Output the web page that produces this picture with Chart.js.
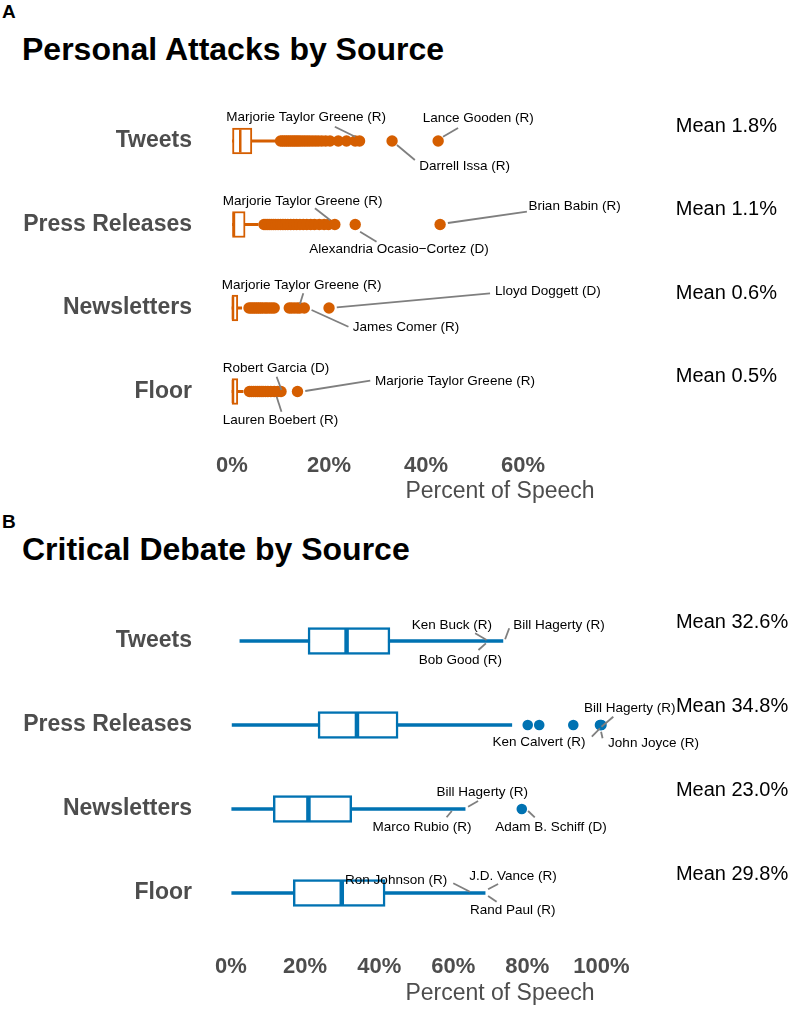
<!DOCTYPE html>
<html>
<head>
<meta charset="utf-8">
<script src="https://cdn.jsdelivr.net/npm/chart.js@4.4.1/dist/chart.umd.min.js"></script>
<style>
  body { margin: 0; background: #fff; width: 800px; height: 1009px; position: relative; overflow: hidden;
         font-family: "Liberation Sans", Arial, Helvetica, sans-serif; }
  .tag { position: absolute; left: 2px; font-weight: bold; font-size: 19px; line-height: 1; color: #000; }
  .ttl { position: absolute; left: 22px; font-weight: bold; font-size: 32px; line-height: 1; color: #000; }
  canvas { position: absolute; left: 0; }
</style>
</head>
<body>
<div class="tag" style="top:2px">A</div>
<div class="ttl" style="top:33px">Personal Attacks by Source</div>
<canvas id="chartA" width="800" height="440" style="top:70px"></canvas>
<div class="tag" style="top:512px">B</div>
<div class="ttl" style="top:533px">Critical Debate by Source</div>
<canvas id="chartB" width="800" height="439" style="top:570px"></canvas>
<script>
const ROWS = ['Tweets', 'Press Releases', 'Newsletters', 'Floor'];

// ─── A: personal attacks, percent of speech ───────────────────────────────
const A_TICKS  = [0, 20, 40, 60];
const A_LOW    = [0.1, 0.1, 0.0, 0.0];
const A_Q1     = [0.1, 0.1, 0.0, 0.0];
const A_MEDIAN = [1.7, 0.4, 0.2, 0.2];
const A_Q3     = [4.1, 2.7, 1.2, 1.2];
const A_HIGH   = [8.9, 5.4, 2.0, 2.3];
const A_MEANS  = [1.8, 1.1, 0.6, 0.5];
const A_OUT_TWEETS = [10.0, 10.4, 10.8, 11.2, 11.6, 12.0, 12.4, 12.8, 13.2, 13.6, 14.0, 14.5, 15.0, 15.5,
                      16.0, 16.6, 17.2, 17.8, 18.5, 19.3, 20.2, 21.9, 23.6, 25.4, 26.3, 33.0, 42.5];
const A_OUT_PRESS  = [6.6, 7.0, 7.4, 7.8, 8.2, 8.6, 9.0, 9.5, 10.0, 10.5, 11.0, 11.5, 12.1, 12.7, 13.3,
                      14.0, 14.7, 15.4, 16.2, 17.0, 18.0, 19.0, 19.9, 21.2, 25.4, 42.9];
const A_OUT_NEWS   = [3.5, 3.9, 4.3, 4.7, 5.1, 5.5, 5.9, 6.3, 6.8, 7.2, 7.7, 8.2, 8.7,
                      11.8, 12.3, 12.9, 13.5, 14.0, 14.9, 20.0];
const A_OUT_FLOOR  = [3.6, 4.0, 4.4, 4.8, 5.2, 5.6, 6.0, 6.4, 6.9, 7.4, 8.0, 8.7, 9.4, 10.1, 13.5];

// ─── B: critical debate, percent of speech ────────────────────────────────
const B_TICKS  = [0, 20, 40, 60, 80, 100];
const B_LOW    = [2.4, 0.3, 0.2, 0.2];
const B_Q1     = [20.8, 23.5, 11.4, 16.8];
const B_MEDIAN = [31.2, 34.0, 20.9, 29.9];
const B_Q3     = [42.9, 45.1, 32.6, 41.6];
const B_HIGH   = [73.4, 75.8, 63.2, 68.6];
const B_MEANS  = [32.6, 34.8, 23.0, 29.8];
const B_OUT_TWEETS = [];
const B_OUT_PRESS  = [80.1, 83.2, 92.4, 99.6, 99.8, 100.0];
const B_OUT_NEWS   = [78.5];
const B_OUT_FLOOR  = [];

// Labelled members: [row, text, text x (%), text dy (px), segment x1 (%), dy1, x2 (%), dy2]
const A_NOTES = [
    ['Tweets', 'Marjorie Taylor Greene (R)', -1.2, -23.7, 21.2, -14.3, 25.4, -4.3],
    ['Tweets', 'Lance Gooden (R)', 39.3, -22.7, 46.6, -13, 43.5, -4.3],
    ['Tweets', 'Darrell Issa (R)', 38.6, 25, 34.0, 4, 37.7, 19],
    ['Press Releases', 'Marjorie Taylor Greene (R)', -1.9, -23.5, 17.1, -16.2, 20.2, -4.5],
    ['Press Releases', 'Brian Babin (R)', 61.1, -17.8, 60.8, -12.8, 44.5, -1.5],
    ['Press Releases', 'Alexandria Ocasio\u2212Cortez (D)', 15.9, 24.8, 26.4, 7.2, 29.8, 17.2],
    ['Newsletters', 'Marjorie Taylor Greene (R)', -2.1, -23, 14.7, -14.7, 14.0, -4],
    ['Newsletters', 'Lloyd Doggett (D)', 54.2, -16.3, 21.6, -0.7, 53.2, -14.7],
    ['Newsletters', 'James Comer (R)', 24.9, 19.3, 16.4, 2, 24.0, 18.7],
    ['Floor', 'Robert Garcia (D)', -1.9, -23.2, 9.2, -14.8, 10.2, -1.5],
    ['Floor', 'Lauren Boebert (R)', -1.9, 28.5, 9.2, 5.2, 10.2, 20.2],
    ['Floor', 'Marjorie Taylor Greene (R)', 29.5, -9.8, 15.1, -0.5, 28.5, -10.8],
];
const B_NOTES = [
    ['Tweets', 'Ken Buck (R)', 48.8, -16, 65.9, -7.7, 69.0, -1],
    ['Tweets', 'Bob Good (R)', 50.7, 19, 66.8, 9, 68.8, 2.3],
    ['Tweets', 'Bill Hagerty (R)', 76.2, -16, 74.0, -1.7, 75.1, -12.7],
    ['Press Releases', 'Bill Hagerty (R)', 95.3, -16.7, 100.0, 1.7, 103.2, -8.3],
    ['Press Releases', 'Ken Calvert (R)', 70.6, 17.7, 97.4, 11.7, 99.6, 3.3],
    ['Press Releases', 'John Joyce (R)', 101.8, 18.3, 100.3, 13.3, 99.9, 6.7],
    ['Newsletters', 'Bill Hagerty (R)', 55.5, -16.3, 64.0, -2.3, 66.7, -8],
    ['Newsletters', 'Marco Rubio (R)', 38.2, 18.3, 58.2, 8.3, 59.6, 2],
    ['Newsletters', 'Adam B. Schiff (D)', 71.3, 18.3, 80.2, 2, 82.0, 8.3],
    ['Floor', 'Ron Johnson (R)', 30.8, -12.3, 60.0, -9.7, 64.5, -1.3],
    ['Floor', 'J.D. Vance (R)', 64.3, -17, 69.4, -3.7, 72.1, -9],
    ['Floor', 'Rand Paul (R)', 64.5, 17.7, 69.4, 3, 71.7, 8.7],
];

const FONT = '"Liberation Sans", Arial, Helvetica, sans-serif';
Chart.defaults.font.family = FONT;

// Labels, leader lines and the "Mean x%" column, placed through the chart's scales
function notesPlugin(notes, means, meanX, meanDy) {
    return {
        id: 'notes',
        afterDatasetsDraw(chart) {
            const { ctx, scales: { x, y } } = chart;
            ctx.save();
            ctx.strokeStyle = '#7f7f7f';
            ctx.lineWidth = 1.8;
            notes.forEach(n => {
                const yc = y.getPixelForValue(ROWS.indexOf(n[0]));
                ctx.beginPath();
                ctx.moveTo(x.getPixelForValue(n[4]), yc + n[5]);
                ctx.lineTo(x.getPixelForValue(n[6]), yc + n[7]);
                ctx.stroke();
            });
            ctx.fillStyle = '#000';
            ctx.textAlign = 'left';
            ctx.textBaseline = 'middle';
            ctx.font = '13.5px ' + FONT;
            notes.forEach(n => {
                const yc = y.getPixelForValue(ROWS.indexOf(n[0]));
                ctx.fillText(n[1], x.getPixelForValue(n[2]), yc + n[3]);
            });
            ctx.font = '20px ' + FONT;
            means.forEach((m, i) => {
                ctx.fillText('Mean ' + m.toFixed(1) + '%', x.getPixelForValue(meanX), y.getPixelForValue(i) + meanDy);
            });
            ctx.restore();
        }
    };
}

function renderPanel(canvasId, p) {
    const outliers = [];
    p.outliers.forEach((arr, i) => arr.forEach(v => outliers.push({ x: v, y: ROWS[i] })));

    return new Chart(document.getElementById(canvasId), {
        type: 'bar',
        data: {
            labels: ROWS,
            datasets: [
                {   // outlying members
                    type: 'scatter', data: outliers, order: 1,
                    pointRadius: p.dot, pointBackgroundColor: p.color, pointBorderWidth: 0
                },
                {   // medians
                    type: 'scatter', order: 2,
                    data: p.median.map((v, i) => ({ x: v, y: ROWS[i] })),
                    pointStyle: 'line', pointRotation: 90, pointRadius: p.boxH / 2 - 1.5,
                    pointBorderColor: p.color, pointBorderWidth: p.medW
                },
                {   // boxes
                    type: 'bar', indexAxis: 'y', grouped: false, order: 3,
                    data: p.q1.map((v, i) => [v, p.q3[i]]),
                    backgroundColor: '#fff', borderColor: p.color, borderWidth: p.boxLw,
                    borderSkipped: false, barThickness: p.boxH
                },
                {   // whiskers
                    type: 'bar', indexAxis: 'y', grouped: false, order: 4,
                    data: p.low.map((v, i) => [v, p.high[i]]),
                    backgroundColor: p.color, borderWidth: 0, barThickness: p.whiskerW
                }
            ]
        },
        options: {
            responsive: false,
            animation: false,
            layout: { autoPadding: false, padding: { top: p.padTop, left: 0, right: 0, bottom: 0 } },
            plugins: { legend: { display: false }, tooltip: { enabled: false } },
            scales: {
                x: {
                    type: 'linear', min: p.min, max: p.max, offset: false,
                    grid: { display: false, drawTicks: false }, border: { display: false },
                    afterBuildTicks: s => { s.ticks = p.ticks.map(v => ({ value: v })); },
                    afterFit: s => { s.height = p.axisH; },
                    ticks: {
                        padding: p.tickPad, autoSkip: false, maxRotation: 0, color: '#4d4d4d',
                        font: { size: 22, weight: 'bold' }, callback: v => v + '%'
                    },
                    title: {
                        display: true, text: 'Percent of Speech', color: '#4d4d4d',
                        font: { size: 23 }, padding: { top: 0, bottom: p.titlePad }
                    }
                },
                y: {
                    type: 'category', labels: ROWS, offset: true,
                    grid: { display: false, drawTicks: false }, border: { display: false },
                    afterFit: s => { s.width = 200; },
                    ticks: { padding: 8, color: '#4d4d4d', font: { size: 23, weight: 'bold' } }
                }
            }
        },
        plugins: [notesPlugin(p.notes, p.means, p.meanX, p.meanDy)]
    });
}

// x range chosen so 0% and the last tick land where the reference puts them
renderPanel('chartA', {
    color: '#D55E00', ticks: A_TICKS, min: -6.6, max: 117.1,
    low: A_LOW, q1: A_Q1, median: A_MEDIAN, q3: A_Q3, high: A_HIGH, means: A_MEANS,
    outliers: [A_OUT_TWEETS, A_OUT_PRESS, A_OUT_NEWS, A_OUT_FLOOR], notes: A_NOTES,
    meanX: 91.5, meanDy: -15,
    padTop: 29.25, axisH: 76.75, tickPad: 19.5, titlePad: 4.2,
    boxH: 26, boxLw: 2, medW: 2.5, whiskerW: 2.5, dot: 5.7
});

renderPanel('chartB', {
    color: '#0072B2', ticks: B_TICKS, min: -8.37, max: 153.6,
    low: B_LOW, q1: B_Q1, median: B_MEDIAN, q3: B_Q3, high: B_HIGH, means: B_MEANS,
    outliers: [B_OUT_TWEETS, B_OUT_PRESS, B_OUT_NEWS, B_OUT_FLOOR], notes: B_NOTES,
    meanX: 120.1, meanDy: -19,
    padTop: 29, axisH: 74, tickPad: 18.5, titlePad: 1.2,
    boxH: 27, boxLw: 2.5, medW: 4.5, whiskerW: 3, dot: 5.3
});
</script>
</body>
</html>
